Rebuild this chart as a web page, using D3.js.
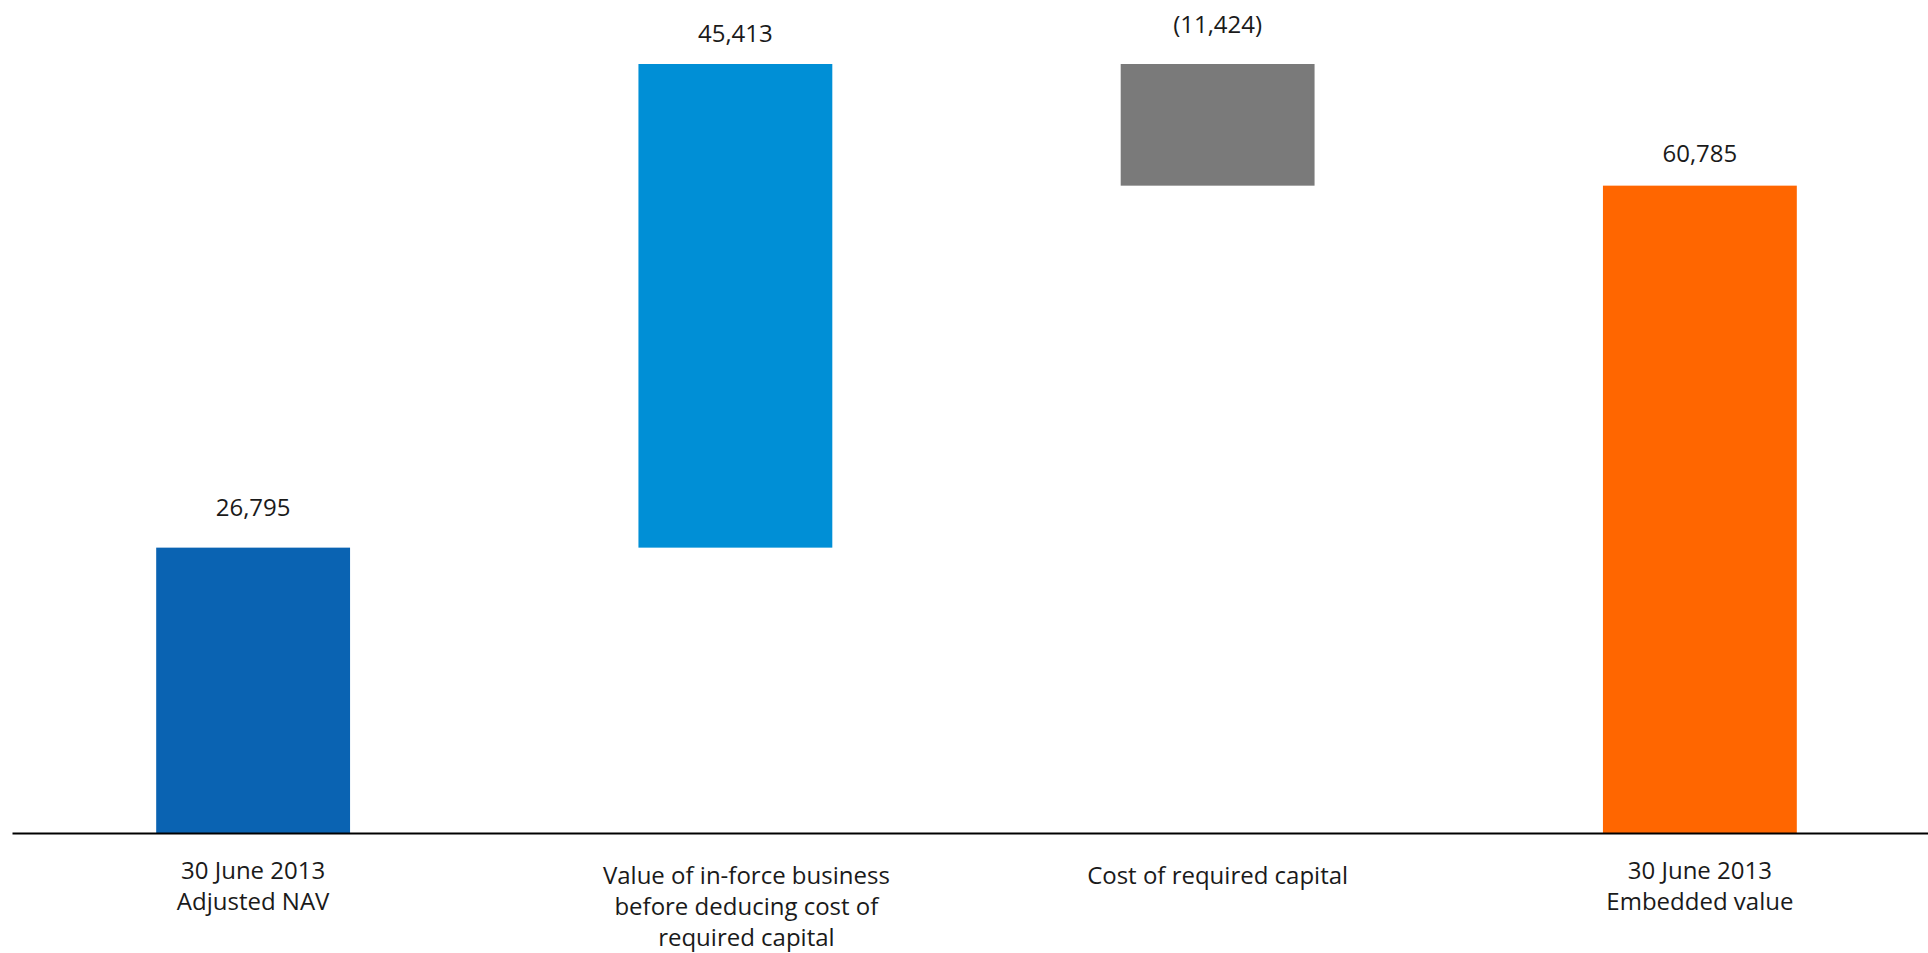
<!DOCTYPE html>
<html>
<head>
<meta charset="utf-8">
<script src="https://cdn.jsdelivr.net/npm/d3@7"></script>
<style>
  html, body { margin: 0; padding: 0; background: #ffffff; }
  svg { display: block; }
  text { font-family: "Open Sans", "Noto Sans", sans-serif; fill: #1a1a1a; }
</style>
</head>
<body>
<svg id="chart" width="1928" height="953"></svg>
<script>
// Embedded value walk (USD million)
const categories = ["nav", "vif", "crc", "ev"];
const categoryLines = [
  ["30 June 2013", "Adjusted NAV"],
  ["Value of in-force business", "before deducing cost of", "required capital"],
  ["Cost of required capital"],
  ["30 June 2013", "Embedded value"]
];
const values = [26795, 45413, -11424, 60785];
const barKinds = ["total", "delta", "delta", "total"];
const valueLabels = ["26,795", "45,413", "(11,424)", "60,785"];
const barColors = ["#0a63b2", "#008fd6", "#7a7a7a", "#ff6600"];

// Build start/end of each step of the waterfall
let running = 0;
const steps = values.map((v, i) => {
  let start, end;
  if (barKinds[i] === "total") { start = 0; end = v; running = v; }
  else { start = running; end = running + v; running = end; }
  return { key: categories[i], value: v, start, end, lines: categoryLines[i],
           label: valueLabels[i], color: barColors[i], kind: barKinds[i] };
});

const svg = d3.select("#chart");
const baseY = 833;

const x = d3.scaleBand()
  .domain(categories)
  .range([12, 1941])
  .paddingInner(0.598)
  .paddingOuter(0.299);

const y = d3.scaleLinear()
  .domain([0, d3.max(steps, d => Math.max(d.start, d.end))])
  .range([baseY, 64]);

// Bars
svg.append("g")
  .selectAll("rect")
  .data(steps)
  .join("rect")
  .attr("x", d => x(d.key))
  .attr("width", x.bandwidth())
  .attr("y", d => y(Math.max(d.start, d.end)))
  .attr("height", d => Math.abs(y(d.start) - y(d.end)))
  .attr("fill", d => d.color);

// Value labels above each bar
const labelGap = [32, 22, 31, 24];
svg.append("g")
  .selectAll("text")
  .data(steps)
  .join("text")
  .attr("x", d => x(d.key) + x.bandwidth() / 2)
  .attr("y", (d, i) => y(Math.max(d.start, d.end)) - labelGap[i])
  .attr("text-anchor", "middle")
  .style("font-size", "24px")
  .text(d => d.label);

// Baseline axis
const axis = svg.append("g")
  .attr("transform", `translate(0,${baseY})`)
  .call(d3.axisBottom(x).tickSize(0).tickFormat(""));
axis.select(".domain").attr("stroke", "#000").attr("stroke-width", 2);

// Multi-line category labels
const catG = svg.append("g")
  .selectAll("text")
  .data(steps)
  .join("text")
  .attr("text-anchor", "middle")
  .attr("transform", (d, i) => {
    const cx = x(d.key) + x.bandwidth() / 2 + (i === 1 ? 11 : 0);
    const cy = d.kind === "total" ? 879 : 884;
    return `translate(${cx},${cy})`;
  })
  .style("font-size", "24px");

catG.selectAll("tspan")
  .data(d => d.lines)
  .join("tspan")
  .attr("x", 0)
  .attr("dy", (t, j) => j === 0 ? 0 : 31)
  .text(t => t);
</script>
</body>
</html>
